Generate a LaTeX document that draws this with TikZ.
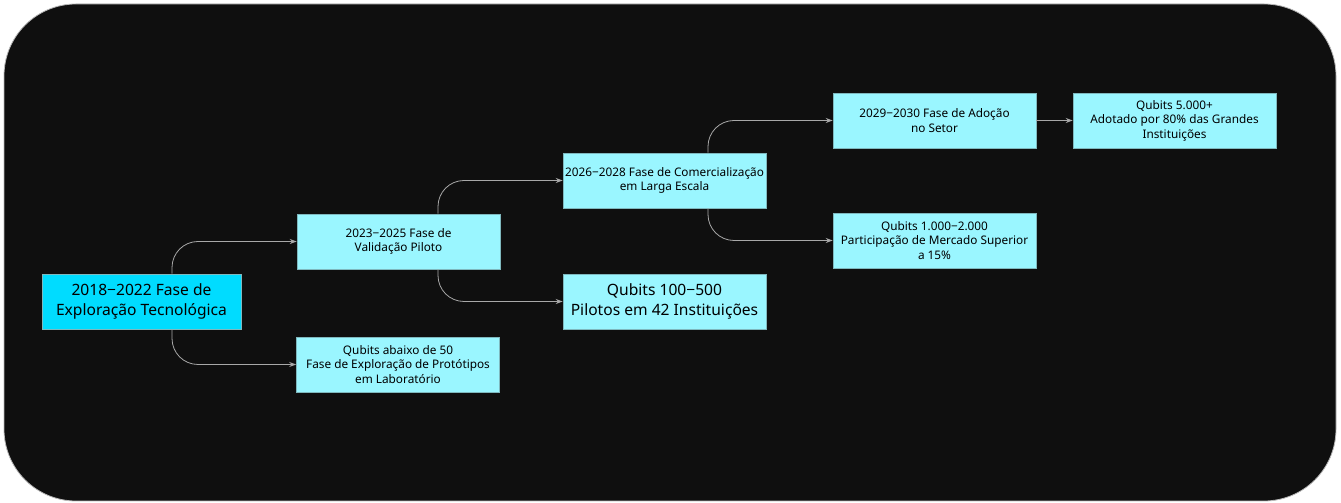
\documentclass[tikz,border=0pt]{standalone}
\usepackage{fontspec}
\setmainfont{Noto Sans}
\usetikzlibrary{arrows.meta}
\definecolor{bgblack}{HTML}{0F0F0F}
\definecolor{nodecyan}{HTML}{9AF6FF}
\definecolor{rootcyan}{HTML}{00DCFF}
\definecolor{linkgray}{HTML}{A8A8A8}
\definecolor{boxedge}{HTML}{7FB8BE}
\tikzset{
  x=1pt,y=1pt,
  box/.style={draw=boxedge, line width=0.6pt, fill=nodecyan, minimum width=203pt, minimum height=55pt, align=center, inner sep=1pt, font=\fontsize{11.8}{14.5}\selectfont, text=black},
  bigbox/.style={box, font=\fontsize{15.6}{20}\selectfont},
  rootbox/.style={bigbox, fill=rootcyan, minimum width=199pt},
  link/.style={draw=linkgray, line width=0.8pt, rounded corners=26pt, -{Stealth[length=7pt,width=5pt]}}
}
\begin{document}
\begin{tikzpicture}
\useasboundingbox (0,0) rectangle (1341,503);
\fill[bgblack, draw=gray!55, line width=0.8pt, rounded corners=72pt] (4,2) rectangle (1336,499);

\node[rootbox] (root) at (141.5,201.5) {2018−2022 Fase de\\Exploração Tecnológica};
\node[box] (n2) at (398.5,261.5) {2023−2025 Fase de\\Validação Piloto};
\node[box] (n3) at (398,138.5) {Qubits abaixo de 50\\Fase de Exploração de Protótipos\\em Laboratório};
\node[box] (n4) at (664.5,322.5) {2026−2028 Fase de Comercialização\\em Larga Escala};
\node[bigbox] (n5) at (664.5,201.5) {Qubits 100−500\\Pilotos em 42 Instituições};
\node[box] (n6) at (934.5,382.5) {2029−2030 Fase de Adoção\\no Setor};
\node[box] (n7) at (934.5,262.5) {Qubits 1.000−2.000\\Participação de Mercado Superior\\a 15\%};
\node[box] (n8) at (1174.5,382.5) {Qubits 5.000+\\Adotado por 80\% das Grandes\\Instituições};

\draw[link] ([xshift=30.5pt]root.north) |- (n2.west);
\draw[link] ([xshift=30.5pt]root.south) |- (n3.west);
\draw[link] ([xshift=39.5pt]n2.north) |- (n4.west);
\draw[link] ([xshift=39.5pt]n2.south) |- (n5.west);
\draw[link] ([xshift=43.5pt]n4.north) |- (n6.west);
\draw[link] ([xshift=43.5pt]n4.south) |- (n7.west);
\draw[link] (n6.east) -- (n8.west);
\end{tikzpicture}
\end{document}
